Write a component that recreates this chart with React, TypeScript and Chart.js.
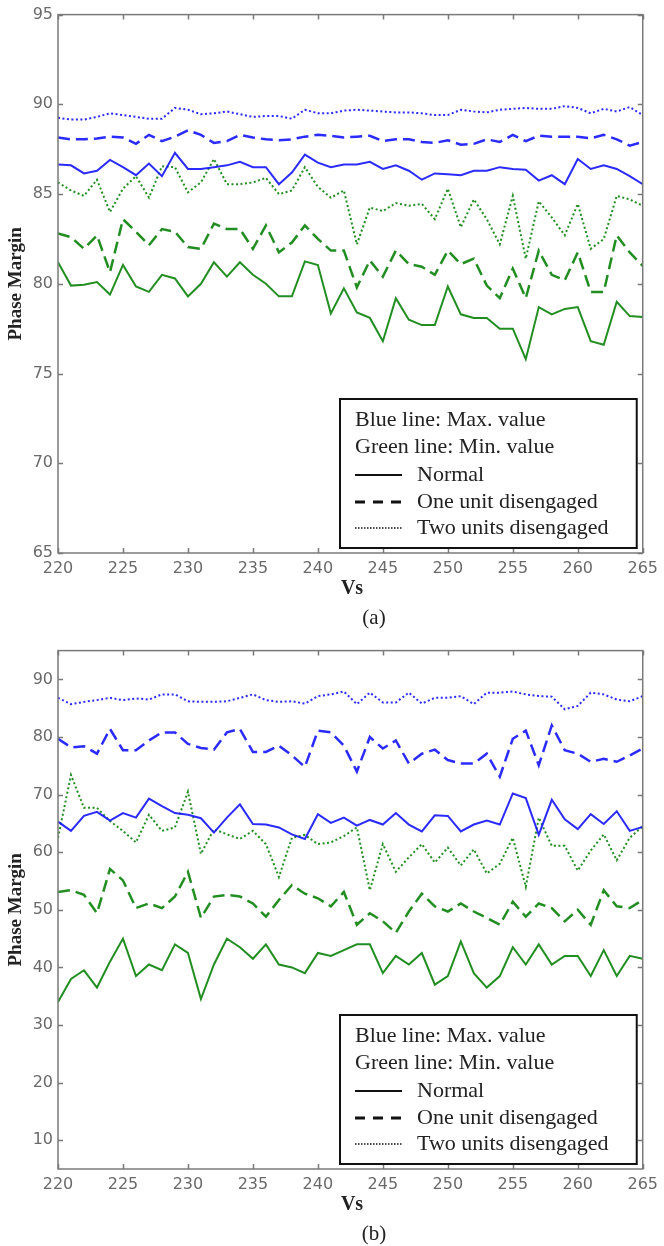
import React, { useEffect, useRef } from "react";
import { Chart, registerables } from "chart.js";

Chart.register(...registerables);

// ---------- DATA ----------
const vs = [
  220, 221, 222, 223, 224, 225, 226, 227, 228, 229,
  230, 231, 232, 233, 234, 235, 236, 237, 238, 239,
  240, 241, 242, 243, 244, 245, 246, 247, 248, 249,
  250, 251, 252, 253, 254, 255, 256, 257, 258, 259,
  260, 261, 262, 263, 264, 265,
];
const xTicks = [220, 225, 230, 235, 240, 245, 250, 255, 260, 265];
const yTicksA = [65, 70, 75, 80, 85, 90, 95];
const yTicksB = [10, 20, 30, 40, 50, 60, 70, 80, 90];

// (a)
const aBlueTwo = [
  89.25, 89.15, 89.15, 89.3, 89.5, 89.4, 89.3, 89.2, 89.2, 89.8,
  89.7, 89.45, 89.5, 89.6, 89.45, 89.3, 89.35, 89.35, 89.2, 89.7,
  89.5, 89.5, 89.65, 89.7, 89.65, 89.6, 89.55, 89.55, 89.5, 89.4,
  89.4, 89.7, 89.6, 89.55, 89.7, 89.75, 89.8, 89.75, 89.75, 89.9,
  89.8, 89.5, 89.75, 89.6, 89.85, 89.4,
];
const aBlueOne = [
  88.15, 88.05, 88.05, 88.1, 88.2, 88.15, 87.8, 88.3, 87.95, 88.2,
  88.55, 88.3, 87.85, 87.95, 88.3, 88.15, 88.05, 88.0, 88.05, 88.2,
  88.3, 88.25, 88.15, 88.2, 88.25, 87.95, 88.05, 88.05, 87.9, 87.85,
  88.0, 87.75, 87.8, 88.05, 87.9, 88.3, 87.95, 88.25, 88.2, 88.2,
  88.2, 88.1, 88.3, 88.05, 87.7, 87.9,
];
const aBlueNormal = [
  86.65, 86.6, 86.15, 86.3, 86.9, 86.5, 86.05, 86.7, 86.0, 87.3,
  86.4, 86.4, 86.5, 86.6, 86.8, 86.5, 86.5, 85.55, 86.2, 87.2,
  86.75, 86.5, 86.65, 86.65, 86.8, 86.4, 86.6, 86.3, 85.8, 86.15,
  86.1, 86.05, 86.3, 86.3, 86.5, 86.4, 86.35, 85.75, 86.05, 85.55,
  86.95, 86.4, 86.6, 86.4, 86.0, 85.55,
];
const aGreenTwo = [
  85.65, 85.2, 84.9, 85.8, 84.0, 85.3, 86.0, 84.8, 86.55, 86.5,
  85.1, 85.65, 86.95, 85.55, 85.55, 85.65, 85.9, 85.0, 85.2, 86.5,
  85.4, 84.8, 85.2, 82.2, 84.25, 84.05, 84.5, 84.35, 84.45, 83.6,
  85.3, 83.15, 84.7, 83.6, 82.2, 84.9, 81.4, 84.6, 83.7, 82.7,
  84.45, 81.95, 82.5, 84.9, 84.7, 84.35,
];
const aGreenOne = [
  82.8, 82.6, 81.95, 82.7, 80.65, 83.6, 82.9, 82.15, 83.05, 82.9,
  82.05, 81.95, 83.35, 83.05, 83.05, 81.95, 83.25, 81.75, 82.3, 83.25,
  82.5, 81.85, 81.85, 79.8, 81.3, 80.4, 81.85, 81.1, 80.95, 80.5,
  81.85, 81.1, 81.4, 79.9, 79.2, 80.85, 79.2, 81.85, 80.5, 80.2,
  81.75, 79.55, 79.55, 82.7, 81.75, 81.0,
];
const aGreenNormal = [
  81.2, 79.9, 79.95, 80.1, 79.4, 81.05, 79.85, 79.55, 80.5, 80.3,
  79.3, 80.0, 81.2, 80.4, 81.2, 80.5, 80.0, 79.3, 79.3, 81.25,
  81.05, 78.35, 79.75, 78.4, 78.1, 76.8, 79.2, 78.0, 77.7, 77.7,
  79.85, 78.3, 78.1, 78.1, 77.5, 77.5, 75.8, 78.7, 78.3, 78.6,
  78.7, 76.8, 76.6, 79.0, 78.2, 78.15,
];

// (b)
const bBlueTwo = [
  86.8, 85.7, 86.1, 86.4, 86.8, 86.4, 86.7, 86.5, 87.4, 87.4,
  86.2, 86.1, 86.1, 86.2, 86.8, 87.4, 86.4, 86.1, 86.2, 85.8,
  87.1, 87.4, 87.9, 85.7, 87.7, 86.0, 86.0, 87.7, 85.8, 86.8,
  86.8, 87.1, 85.7, 87.7, 87.7, 87.9, 87.4, 87.1, 87.0, 84.8,
  85.4, 87.7, 87.4, 86.5, 86.2, 87.1,
];
const bBlueOne = [
  79.7, 78.2, 78.4, 77.1, 81.4, 77.7, 77.7, 79.4, 80.8, 80.8,
  78.8, 78.1, 77.8, 80.8, 81.4, 77.4, 77.4, 78.5, 76.8, 74.8,
  81.1, 80.8, 78.5, 74.0, 80.0, 78.0, 79.4, 75.4, 77.1, 77.8,
  76.0, 75.4, 75.4, 77.1, 73.1, 79.7, 81.1, 75.1, 82.0, 77.7,
  77.1, 75.7, 76.2, 75.7, 76.8, 78.0,
];
const bBlueNormal = [
  65.3, 63.7, 66.3, 67.0, 65.5, 66.8, 66.0, 69.3, 68.0, 66.8,
  66.5, 65.9, 63.4, 66.0, 68.3, 64.9, 64.8, 64.3, 63.1, 62.3,
  66.6, 65.1, 66.0, 64.6, 65.6, 64.8, 66.8, 64.8, 63.6, 66.4,
  66.3, 63.6, 64.8, 65.5, 64.8, 70.2, 69.4, 63.0, 69.1, 65.7,
  64.0, 66.6, 64.9, 67.1, 63.7, 64.4,
];
const bGreenTwo = [
  62.5, 73.4, 67.7, 67.7, 65.4, 63.7, 61.7, 66.5, 63.7, 64.3,
  70.5, 59.7, 64.0, 63.1, 62.3, 63.7, 61.4, 55.7, 62.5, 63.0,
  61.4, 61.7, 62.8, 64.3, 53.4, 61.4, 56.6, 59.1, 61.4, 58.2,
  60.8, 57.7, 60.5, 56.3, 58.0, 62.5, 54.0, 66.0, 61.1, 61.1,
  56.8, 60.3, 63.1, 58.6, 62.5, 64.5,
];
const bGreenOne = [
  53.1, 53.4, 52.6, 49.4, 57.1, 55.1, 50.3, 51.1, 50.3, 52.3,
  56.6, 48.6, 52.3, 52.6, 52.3, 51.1, 48.8, 51.7, 54.3, 52.8,
  52.0, 50.6, 53.1, 47.4, 49.4, 48.0, 46.0, 49.7, 52.8, 50.6,
  49.7, 51.1, 49.7, 48.6, 47.4, 51.4, 48.8, 51.1, 50.3, 48.0,
  50.0, 47.4, 53.4, 50.6, 50.3, 51.7,
];
const bGreenNormal = [
  34.0, 38.0, 39.5, 36.5, 41.0, 45.0, 38.5, 40.5, 39.5, 44.0,
  42.5, 34.5, 40.5, 45.0, 43.5, 41.5, 44.0, 40.5, 40.0, 39.0,
  42.5, 42.0, 43.0, 44.0, 44.0, 39.0, 42.0, 40.5, 42.5, 37.0,
  38.5, 44.5, 39.0, 36.5, 38.5, 43.5, 40.5, 44.0, 40.5, 42.0,
  42.0, 38.5, 43.0, 38.5, 42.0, 41.5,
];

const legendHeaders = ["Blue line: Max. value", "Green line: Min. value"];
const legendItems = ["Normal", "One unit disengaged", "Two units disengaged"];
const yTitle = "Phase Margin";
const xTitle = "Vs";

// ---------- STYLES ----------
const BLUE = "rgba(20,20,255,0.9)";
const GREEN = "rgba(10,130,10,0.9)";
const DOTTED = [2, 2.5];
const DASHED = [12, 6];
const SERIF = '"Liberation Serif", "Times New Roman", serif';
const SANS = '"DejaVu Sans", Verdana, sans-serif';

type PanelProps = {
  top: number;
  height: number;
  padTop: number;
  axisH: number;
  yMin: number;
  yMax: number;
  yTicks: number[];
  series: number[][];
  caption: string;
};

function Panel(p: PanelProps) {
  const ref = useRef<HTMLCanvasElement | null>(null);
  useEffect(() => {
    const canvas = ref.current;
    if (!canvas) return;
    const styles = [
      { color: BLUE, dash: DOTTED, w: 2 },
      { color: BLUE, dash: DASHED, w: 2.5 },
      { color: BLUE, dash: [] as number[], w: 2 },
      { color: GREEN, dash: DOTTED, w: 2 },
      { color: GREEN, dash: DASHED, w: 2.5 },
      { color: GREEN, dash: [] as number[], w: 2 },
    ];
    const datasets = p.series.map((s, i) => ({
      data: s.map((y, k) => ({ x: vs[k], y })),
      borderColor: styles[i].color,
      borderWidth: styles[i].w,
      borderDash: styles[i].dash,
      pointRadius: 0,
      tension: 0,
      fill: false,
    }));

    const decor = {
      id: "decor",
      afterDraw(chart: any) {
        const { ctx, chartArea: a, scales } = chart;
        const xs = scales.x;
        const ys = scales.y;
        ctx.save();
        // frame + inward ticks
        ctx.setLineDash([]);
        ctx.strokeStyle = "#7a7a7a";
        ctx.lineWidth = 1.5;
        ctx.strokeRect(a.left, a.top, a.right - a.left, a.bottom - a.top);
        ctx.beginPath();
        xTicks.forEach((v) => {
          const px = Math.round(xs.getPixelForValue(v)) + 0.5;
          ctx.moveTo(px, a.bottom);
          ctx.lineTo(px, a.bottom - 5);
          ctx.moveTo(px, a.top);
          ctx.lineTo(px, a.top + 5);
        });
        p.yTicks.forEach((v) => {
          const py = Math.round(ys.getPixelForValue(v)) + 0.5;
          ctx.moveTo(a.left, py);
          ctx.lineTo(a.left + 5, py);
          ctx.moveTo(a.right, py);
          ctx.lineTo(a.right - 5, py);
        });
        ctx.stroke();

        // legend box
        const right = a.right - 6;
        const bottom = a.bottom - 5;
        const left = 340;
        const top = bottom - 149;
        ctx.fillStyle = "#fff";
        ctx.fillRect(left, top, right - left, bottom - top);
        ctx.strokeStyle = "#111";
        ctx.lineWidth = 2;
        ctx.strokeRect(left, top, right - left, bottom - top);

        ctx.fillStyle = "#222";
        ctx.font = `22px ${SERIF}`;
        ctx.textBaseline = "middle";
        ctx.textAlign = "left";
        const rows = [bottom - 128, bottom - 101, bottom - 73, bottom - 46, bottom - 20];
        ctx.fillText(legendHeaders[0], 355, rows[0]);
        ctx.fillText(legendHeaders[1], 355, rows[1]);
        const sampleDash = [[], [10, 8], [1.5, 1.5]];
        const sampleW = [2, 3, 1.5];
        legendItems.forEach((t, i) => {
          const y = rows[2 + i];
          ctx.beginPath();
          ctx.strokeStyle = "#111";
          ctx.lineWidth = sampleW[i];
          ctx.setLineDash(sampleDash[i]);
          ctx.moveTo(355, y);
          ctx.lineTo(402, y);
          ctx.stroke();
          ctx.setLineDash([]);
          ctx.fillText(t, 417, y);
        });

        // axis titles and caption
        ctx.fillStyle = "#222";
        ctx.textAlign = "center";
        ctx.font = `bold 20px ${SERIF}`;
        ctx.fillText(xTitle, 352, a.bottom + 36);
        ctx.font = `21px ${SERIF}`;
        ctx.fillText(p.caption, 374, a.bottom + 65);
        ctx.save();
        ctx.translate(16, (a.top + a.bottom) / 2);
        ctx.rotate(-Math.PI / 2);
        ctx.font = `bold 19px ${SERIF}`;
        ctx.fillText(yTitle, 0, 0);
        ctx.restore();
        ctx.restore();
      },
    };

    const chart = new Chart(canvas, {
      type: "line",
      data: { datasets },
      options: {
        animation: false,
        responsive: false,
        devicePixelRatio: 1,
        layout: { padding: { top: p.padTop, right: 17, left: 0, bottom: 0 } },
        plugins: { legend: { display: false }, tooltip: { enabled: false } },
        scales: {
          x: {
            type: "linear",
            min: 220,
            max: 265,
            afterFit: (s: any) => {
              s.height = p.axisH;
            },
            afterBuildTicks: (s: any) => {
              s.ticks = xTicks.map((v) => ({ value: v }));
            },
            grid: { display: false, drawTicks: false },
            border: { display: false },
            ticks: {
              padding: 6,
              color: "#6a6a6a",
              font: { family: SANS, size: 16 },
              maxRotation: 0,
              autoSkip: false,
            },
          },
          y: {
            type: "linear",
            min: p.yMin,
            max: p.yMax,
            afterFit: (s: any) => {
              s.width = 58;
            },
            afterBuildTicks: (s: any) => {
              s.ticks = p.yTicks.map((v) => ({ value: v }));
            },
            grid: { display: false, drawTicks: false },
            border: { display: false },
            ticks: {
              padding: 5,
              color: "#6a6a6a",
              font: { family: SANS, size: 16 },
              autoSkip: false,
            },
          },
        },
      },
      plugins: [decor],
    } as any);
    return () => chart.destroy();
  }, []);

  return (
    <div style={{ position: "absolute", left: 0, top: p.top, width: 664, height: p.height }}>
      <canvas ref={ref} width={664} height={p.height} style={{ display: "block" }} />
    </div>
  );
}

export default function App() {
  return (
    <div style={{ position: "absolute", left: 0, top: 0, width: 664, height: 1246, background: "#fff" }}>
      <Panel
        top={0}
        height={636}
        padTop={11}
        axisH={83}
        yMin={65}
        yMax={95}
        yTicks={yTicksA}
        series={[aBlueTwo, aBlueOne, aBlueNormal, aGreenTwo, aGreenOne, aGreenNormal]}
        caption="(a)"
      />
      <Panel
        top={636}
        height={610}
        padTop={8}
        axisH={77}
        yMin={5}
        yMax={95}
        yTicks={yTicksB}
        series={[bBlueTwo, bBlueOne, bBlueNormal, bGreenTwo, bGreenOne, bGreenNormal]}
        caption="(b)"
      />
    </div>
  );
}
